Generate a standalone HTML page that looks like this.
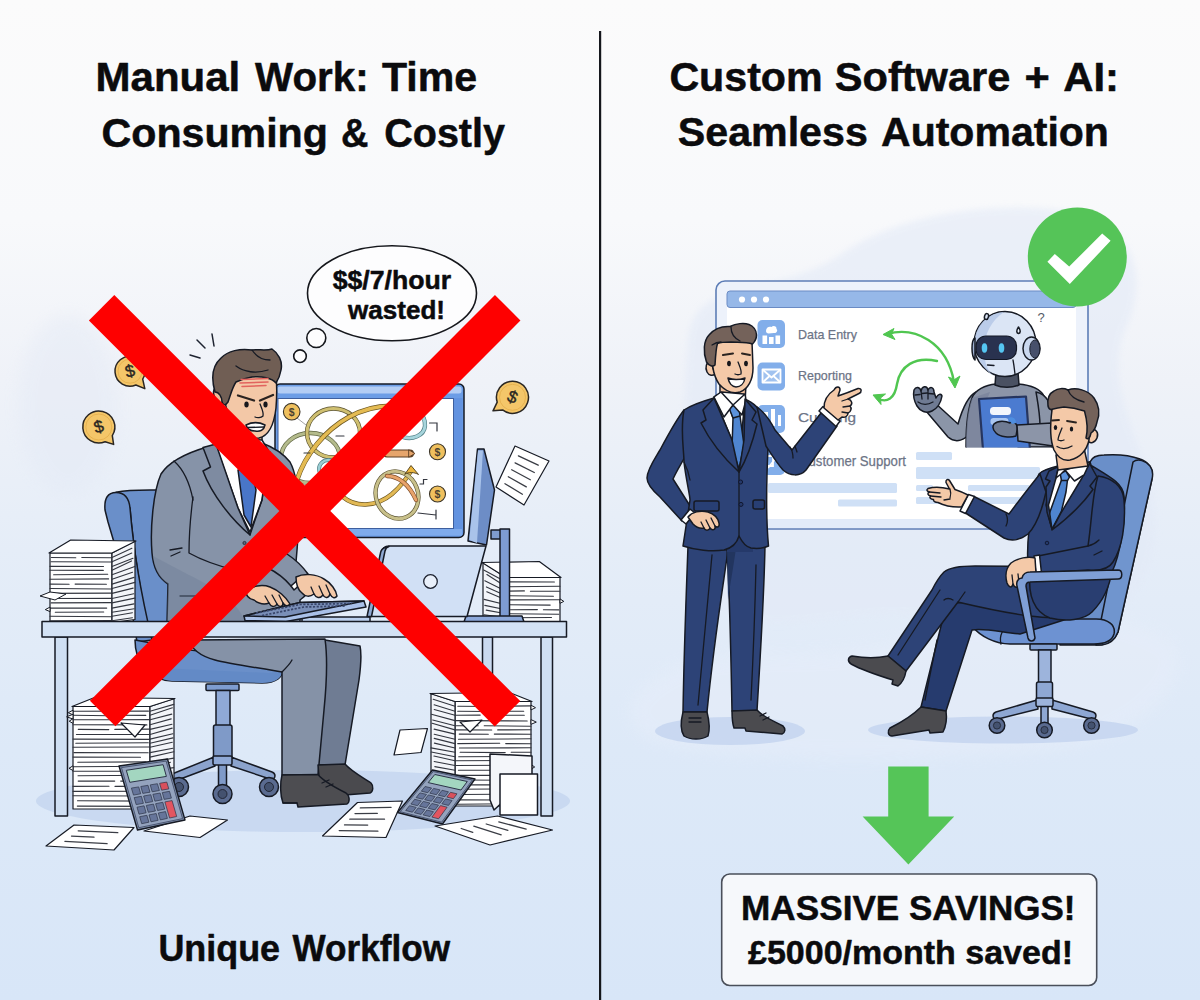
<!DOCTYPE html>
<html lang="en">
<head>
<meta charset="utf-8">
<title>Manual Work vs Custom Software + AI</title>
<style>
html,body{margin:0;padding:0;background:#eef2f9;}
body{width:1200px;height:1000px;overflow:hidden;font-family:"Liberation Sans",sans-serif;}
svg{display:block;}
text{font-family:"Liberation Sans",sans-serif;}
.t{font-weight:700;fill:#0b0b0d;stroke:#0b0b0d;stroke-width:.5px;stroke-linejoin:round;}
.o{stroke:#161a24;stroke-width:1.5;stroke-linejoin:round;stroke-linecap:round;}
.ol{fill:none;stroke:#161a24;stroke-width:1.3;stroke-linecap:round;stroke-linejoin:round;}
.pl{fill:none;stroke:#3a3d45;stroke-width:1.1;stroke-linecap:round;}
</style>
</head>
<body>
<svg width="1200" height="1000" viewBox="0 0 1200 1000">
<defs>
<linearGradient id="bg" x1="0" y1="0" x2="0" y2="1">
<stop offset="0" stop-color="#fbfbfb"/>
<stop offset="0.22" stop-color="#f8f9fb"/>
<stop offset="0.38" stop-color="#eff2f8"/>
<stop offset="0.55" stop-color="#e5edf8"/>
<stop offset="0.75" stop-color="#dde9f8"/>
<stop offset="1" stop-color="#d8e6f8"/>
</linearGradient>
<filter id="blur8" x="-20%" y="-20%" width="140%" height="140%"><feGaussianBlur stdDeviation="8"/></filter>
<filter id="blur3" x="-20%" y="-20%" width="140%" height="140%"><feGaussianBlur stdDeviation="3"/></filter>
</defs>
<rect width="1200" height="1000" fill="url(#bg)"/>

<!-- ================= BACKGROUND BLOBS ================= -->
<g id="blobs">
<path d="M688,340 C694,275 770,300 840,255 C900,212 1000,200 1075,212 C1135,225 1150,280 1125,330 C1105,380 1135,430 1150,480 C1165,540 1150,600 1100,625 C1040,650 960,610 880,615 C800,620 740,640 705,590 C670,540 684,420 688,340 Z" fill="#e3eaf7" opacity=".6" filter="url(#blur3)"/>
<path d="M640,690 C700,630 800,670 900,640 C1000,612 1100,600 1170,640 C1200,670 1150,740 1050,750 C900,765 700,760 650,740 C625,725 625,705 640,690 Z" fill="#e8eefa" opacity=".45" filter="url(#blur8)"/>
<ellipse cx="68" cy="405" rx="50" ry="90" fill="#e3e9f5" opacity=".45" filter="url(#blur8)"/>
</g>

<!-- ================= LEFT SCENE ================= -->
<g id="left-scene">
<ellipse cx="303" cy="801" rx="267" ry="31" fill="#c7d7ef" opacity=".9"/>
<path class="o" d="M116,492.3 C125,490.3 140,489.6 160,490 L176,640 L150,640 C140,590 133,545 130,508 Z" fill="#6a8fc9"/>
<path class="o" d="M105,510 C104,498 108,492.5 116,492.5 C124,492.5 129,498 130,508 C133,545 140,590 152,640 L137,642 C131,600 118,555 108,522 Z" fill="#6a8fc9"/>
<rect class="o" x="482.5" y="637" width="10" height="120" fill="#c9d9ef"/>
<rect class="o" x="275" y="384" width="189" height="153.5" rx="5" fill="#6c9de6" stroke-width="1.5"/>
<rect x="277.5" y="386.5" width="184" height="7" rx="2.5" fill="#b3cdf4"/>
<rect x="278" y="398.5" width="175.5" height="130" fill="#ffffff" stroke="#3e5f9e" stroke-width="1"/>
<rect x="454" y="398" width="8.5" height="137" fill="#6393e0"/>
<rect x="277" y="529" width="185" height="6.5" fill="#7fabec"/>
<g fill="none" stroke-linecap="round">
<path d="M281,458 a29.5,25 0 1 0 59,0 a29.5,25 0 1 0 -59,0" stroke="#5c6340" stroke-width="4.3"/><path d="M281,458 a29.5,25 0 1 0 59,0 a29.5,25 0 1 0 -59,0" stroke="#b4bb8c" stroke-width="3.0"/>
<path d="M307,433 a26.5,24.5 0 1 0 53,0 a26.5,24.5 0 1 0 -53,0" stroke="#5a5230" stroke-width="4.3"/><path d="M307,433 a26.5,24.5 0 1 0 53,0 a26.5,24.5 0 1 0 -53,0" stroke="#cfbf70" stroke-width="3.0"/>
<path d="M319,469 a9.5,9 0 1 0 19,0 a9.5,9 0 1 0 -19,0" stroke="#4f7d84" stroke-width="3.9000000000000004"/><path d="M319,469 a9.5,9 0 1 0 19,0 a9.5,9 0 1 0 -19,0" stroke="#9acdd3" stroke-width="2.6"/>
<path d="M297,480 C305,455 325,430 349,417 C362,410 376,406 390,406" stroke="#6b5520" stroke-width="4.9"/><path d="M297,480 C305,455 325,430 349,417 C362,410 376,406 390,406" stroke="#e4bb52" stroke-width="3.6"/>
<path d="M394,407 C412,404 426,414 425,426 C424,436 412,440 403,437" stroke="#4f7d84" stroke-width="4.3"/><path d="M394,407 C412,404 426,414 425,426 C424,436 412,440 403,437" stroke="#a7d5dc" stroke-width="3.0"/>
<path d="M343,497 C355,507 375,508 392,494 C401,486 407,478 411,471" stroke="#6b5520" stroke-width="4.5"/><path d="M343,497 C355,507 375,508 392,494 C401,486 407,478 411,471" stroke="#e2b955" stroke-width="3.2"/>
<path d="M376,495 a21,24 0 1 0 42,0 a21,24 0 1 0 -42,0" stroke="#5a5230" stroke-width="4.3" transform="rotate(-22 397 495)"/><path d="M376,495 a21,24 0 1 0 42,0 a21,24 0 1 0 -42,0" stroke="#c8c08a" stroke-width="3.0" transform="rotate(-22 397 495)"/>
<path d="M387,476 C398,476 409,484 416,500" stroke="#7a4a28" stroke-width="4.3"/><path d="M387,476 C398,476 409,484 416,500" stroke="#e8a36b" stroke-width="3.0"/>
<path d="M387,453.5 L410,453.5" stroke="#5a3d22" stroke-width="8"/><path d="M387.5,453.5 L409,453.5" stroke="#e6a56c" stroke-width="6"/>
<path d="M409,450 L415,453.5 L409,457 Z" fill="#e6a56c" stroke="#5a3d22" stroke-width=".9"/>
<path d="M405,474 L411,465.5 L418.5,474.5 C414,472 409,472 405,474 Z" fill="#edb73f" stroke="#4a3a18" stroke-width=".9"/>
<path d="M429.5,423 h7.5 v8 M420,484 h3.5 v-4.5 h3.5 M418,513 L436,515 M436,510 v9 M336,436 h8 M304,453 h6" stroke="#33363f" stroke-width="1.2"/>
<path d="M297,418 L306,425" stroke="#8c8c8c" stroke-width=".8"/>
</g>
<circle cx="291.7" cy="411.7" r="8.3" fill="#efc05e" stroke="#3a3428" stroke-width="1.1"/><text x="291.7" y="415.5" font-size="10.5" font-weight="700" text-anchor="middle" fill="#4a4030">$</text>
<circle cx="437.5" cy="451.7" r="8" fill="#efc05e" stroke="#3a3428" stroke-width="1.1"/><text x="437.5" y="455.5" font-size="10.5" font-weight="700" text-anchor="middle" fill="#4a4030">$</text>
<circle cx="437.5" cy="494" r="8" fill="#efc05e" stroke="#3a3428" stroke-width="1.1"/><text x="437.5" y="497.8" font-size="10.5" font-weight="700" text-anchor="middle" fill="#4a4030">$</text>
<path class="o" d="M477.5,449 L484,449 L494.5,490 L486.5,545 L468,541 Z" fill="#6d8dc6"/>
<path d="M478,450.5 L483,450.5 L477,543 L469.3,540 Z" fill="#a9c3ea"/>
<polygon points="506.0,577.5 560.0,577.5 560.0,622.0 506.0,622.0" fill="#ffffff" stroke="#161a24" stroke-width="1.2" stroke-linejoin="round" />
<polygon points="506.0,577.5 483.0,562.5 483.0,620.0 506.0,622.0" fill="#f3f5f9" stroke="#161a24" stroke-width="1.2" stroke-linejoin="round" />
<polygon points="561.0,577.5 539.3,561.5 482.0,562.5 506.0,577.5" fill="#ffffff" stroke="#161a24" stroke-width="1.2" stroke-linejoin="round" />
<line x1="506.0" y1="581.9" x2="554.4" y2="582.0" stroke="#33363f" stroke-width="1.1" stroke-linecap="round"/>
<line x1="506.0" y1="581.9" x2="483.7" y2="569.9" stroke="#33363f" stroke-width="1.1" stroke-linecap="round"/>
<line x1="506.6" y1="586.7" x2="560.0" y2="586.2" stroke="#33363f" stroke-width="1.1" stroke-linecap="round"/>
<line x1="506.0" y1="586.7" x2="486.9" y2="574.5" stroke="#33363f" stroke-width="1.1" stroke-linecap="round"/>
<line x1="506.0" y1="591.2" x2="524.4" y2="590.9" stroke="#33363f" stroke-width="1.1" stroke-linecap="round"/>
<line x1="530.4" y1="591.2" x2="559.8" y2="591.2" stroke="#33363f" stroke-width="1.1" stroke-linecap="round"/>
<line x1="506.0" y1="591.2" x2="484.8" y2="580.7" stroke="#33363f" stroke-width="1.1" stroke-linecap="round"/>
<line x1="509.0" y1="595.8" x2="553.4" y2="596.3" stroke="#33363f" stroke-width="1.1" stroke-linecap="round"/>
<line x1="506.0" y1="595.8" x2="486.4" y2="586.9" stroke="#33363f" stroke-width="1.1" stroke-linecap="round"/>
<line x1="506.0" y1="599.9" x2="559.3" y2="599.8" stroke="#33363f" stroke-width="1.1" stroke-linecap="round"/>
<line x1="506.0" y1="599.9" x2="486.8" y2="591.7" stroke="#33363f" stroke-width="1.1" stroke-linecap="round"/>
<polygon points="560.0,598.9 563.8,601.4 560.0,603.3" fill="#ffffff" stroke="#161a24" stroke-width="1" stroke-linejoin="round" />
<line x1="508.8" y1="604.8" x2="550.2" y2="605.1" stroke="#33363f" stroke-width="1.1" stroke-linecap="round"/>
<line x1="506.0" y1="604.8" x2="484.1" y2="599.4" stroke="#33363f" stroke-width="1.1" stroke-linecap="round"/>
<line x1="510.5" y1="609.8" x2="537.4" y2="609.6" stroke="#33363f" stroke-width="1.1" stroke-linecap="round"/>
<line x1="543.4" y1="609.8" x2="558.8" y2="609.9" stroke="#33363f" stroke-width="1.1" stroke-linecap="round"/>
<line x1="506.0" y1="609.8" x2="484.8" y2="605.4" stroke="#33363f" stroke-width="1.1" stroke-linecap="round"/>
<line x1="509.9" y1="613.7" x2="558.8" y2="614.2" stroke="#33363f" stroke-width="1.1" stroke-linecap="round"/>
<line x1="506.0" y1="613.7" x2="486.2" y2="610.1" stroke="#33363f" stroke-width="1.1" stroke-linecap="round"/>
<line x1="506.0" y1="617.8" x2="551.5" y2="617.5" stroke="#33363f" stroke-width="1.1" stroke-linecap="round"/>
<line x1="506.0" y1="617.8" x2="484.0" y2="614.7" stroke="#33363f" stroke-width="1.1" stroke-linecap="round"/>
<rect class="o" x="491" y="530" width="10" height="9" fill="#7f9cd0"/>
<rect class="o" x="500" y="529" width="9.5" height="88" fill="#7d9bd2"/>
<path class="o" d="M466,616 L522,616 L524,622 L464,622 Z" fill="#8ca8da"/>
<path class="o" d="M233,425 L233,450 L262,452 L262,428 Z" fill="#eebd9b"/>
<path class="o" d="M207,447 C190,452 170,460 161,474 C153,492 150,530 152,553 C153,566 157,577 168,584 L167,623 L300,623 L300,600 C315,590 310,575 296,562 C300,520 300,480 290,462 C282,452 270,446 262,443 L240,470 Z" fill="#8693a8"/>
<path class="o" d="M216,446 L233,438 L262,440 L268,450 L262,500 L250,532 L238,508 Z" fill="#ffffff"/>
<path class="o" d="M238,470 L252,470 L256,490 L251,527 L244,515 Z" fill="#4976c8"/>
<path class="o" d="M203,447.5 L216,444 L238,508 L250,535 C232,520 212,495 203,471 L210.5,467 Z" fill="#7e8ba1"/>
<path class="ol" d="M250,535 L262,500 L270,452"/>
<circle cx="244.5" cy="543" r="1.6" fill="#5d687c" stroke="#1e2330" stroke-width=".8"/>
<path class="ol" d="M193,497 C190,520 189,540 189,553 C205,562 222,567 238,571"/>
<path class="ol" d="M170,550 L182,548 M171,556 L180,552 M174,461 C184,470 190,484 193,500"/>
<path class="ol" d="M180,596 L196,596"/>
<path d="M153,556 C154,567 158,577 168,584 L167,622 L245,622 C240,605 220,590 189,575 Z" fill="#72809a" opacity=".45"/>
<path class="o" d="M219,388 C214,385 212,392 215,398 C217,403 221,404 223,402 Z" fill="#eebd9b"/>
<path class="o" d="M224,372 C222,395 226,415 236,427 C244,436 252,439 259,438 C268,436 274,425 276,408 C277,395 277,385 276,376 C262,370 240,368 224,372 Z" fill="#f3c8a7"/>
<path class="o" d="M215,392 C211,378 212,366 221,358 C228,351 240,348 252,350 C258,349 266,351 272,349 C278,353 283,361 281,370 C280,376 278,380 276,383 C272,378 262,376 252,377 C246,378 240,380 236,382 C232,388 231,394 228,402 C226,405 223,406 222,402 C222,397 219,392 215,392 Z" fill="#705e54"/>
<path class="ol" d="M236,366 C244,372 256,374 268,370 M252,350 C256,356 262,360 270,360" stroke="#3a2f28" stroke-width=".9"/>
<path d="M241,379.5 L268,378.5 M240,383 L268,382 M242,386.5 L266,385.5" stroke="#e2635e" stroke-width="1.5" fill="none" stroke-linecap="round"/>
<path d="M238,395.5 L254,400.5 M260,400.5 L273,395" stroke="#2a2320" stroke-width="2.3" stroke-linecap="round" fill="none"/>
<ellipse cx="246.5" cy="404.5" rx="2.2" ry="3" fill="#17171c"/><ellipse cx="265.5" cy="404.5" rx="2.1" ry="3" fill="#17171c"/>
<path class="ol" d="M260,404 C262,409 264,413 263,416 C261,418 257,418 255,417"/>
<path class="o" d="M246,425 C252,422 259,422 265,425 C264,430 260,432 255,431 C251,431 247,429 246,425 Z" fill="#ffffff"/>
<path class="ol" d="M247,427.5 L264,427" stroke-width=".7"/>
<path d="M190,355 L200,358 M197,340 L205,348 M212,334 L214,346" stroke="#1e2330" stroke-width="1.5" stroke-linecap="round" fill="none"/>
<path class="o" d="M302,617 L370,617 L370,622.5 L302,622.5 Z" fill="#bcd0ee"/>
<path class="o" d="M389,546 L486,546 L467,616.5 L369,616.5 L381,553 C382,549 385,546 389,546 Z" fill="#d1e0f5"/>
<path class="o" d="M386,547 C383,548 381,550 380.5,553 L367,616.5 L371.5,616.5 L385,551 C385.5,548.5 387,547 389,546.5 Z" fill="#8ea8d2"/>
<circle cx="430.5" cy="581.5" r="6.8" fill="#e9f0fa" stroke="#1e2330" stroke-width="1.3"/>
<polygon points="50.0,553.0 112.0,553.0 112.0,622.5 50.0,622.5" fill="#ffffff" stroke="#161a24" stroke-width="1.2" stroke-linejoin="round" />
<polygon points="112.0,553.0 135.0,541.0 135.0,619.5 112.0,622.5" fill="#f3f5f9" stroke="#161a24" stroke-width="1.2" stroke-linejoin="round" />
<polygon points="49.0,553.0 70.7,540.0 136.0,541.0 112.0,553.0" fill="#ffffff" stroke="#161a24" stroke-width="1.2" stroke-linejoin="round" />
<line x1="51.4" y1="557.5" x2="75.8" y2="557.8" stroke="#33363f" stroke-width="1.1" stroke-linecap="round"/>
<line x1="81.8" y1="557.5" x2="111.0" y2="557.7" stroke="#33363f" stroke-width="1.1" stroke-linecap="round"/>
<line x1="112.0" y1="557.5" x2="131.9" y2="548.3" stroke="#33363f" stroke-width="1.1" stroke-linecap="round"/>
<line x1="51.0" y1="561.7" x2="112.0" y2="562.0" stroke="#33363f" stroke-width="1.1" stroke-linecap="round"/>
<line x1="112.0" y1="561.7" x2="131.8" y2="553.0" stroke="#33363f" stroke-width="1.1" stroke-linecap="round"/>
<line x1="50.0" y1="566.4" x2="103.5" y2="566.5" stroke="#33363f" stroke-width="1.1" stroke-linecap="round"/>
<line x1="112.0" y1="566.4" x2="133.0" y2="558.2" stroke="#33363f" stroke-width="1.1" stroke-linecap="round"/>
<line x1="50.0" y1="570.3" x2="103.3" y2="570.4" stroke="#33363f" stroke-width="1.1" stroke-linecap="round"/>
<line x1="112.0" y1="570.3" x2="131.5" y2="560.9" stroke="#33363f" stroke-width="1.1" stroke-linecap="round"/>
<line x1="53.6" y1="574.7" x2="107.7" y2="574.2" stroke="#33363f" stroke-width="1.1" stroke-linecap="round"/>
<line x1="112.0" y1="574.7" x2="134.8" y2="566.4" stroke="#33363f" stroke-width="1.1" stroke-linecap="round"/>
<line x1="50.0" y1="579.2" x2="108.6" y2="578.9" stroke="#33363f" stroke-width="1.1" stroke-linecap="round"/>
<line x1="112.0" y1="579.2" x2="132.5" y2="572.2" stroke="#33363f" stroke-width="1.1" stroke-linecap="round"/>
<line x1="50.0" y1="584.1" x2="69.1" y2="584.3" stroke="#33363f" stroke-width="1.1" stroke-linecap="round"/>
<line x1="75.1" y1="584.1" x2="106.4" y2="584.2" stroke="#33363f" stroke-width="1.1" stroke-linecap="round"/>
<line x1="112.0" y1="584.1" x2="134.1" y2="577.4" stroke="#33363f" stroke-width="1.1" stroke-linecap="round"/>
<line x1="50.0" y1="588.5" x2="112.0" y2="589.0" stroke="#33363f" stroke-width="1.1" stroke-linecap="round"/>
<line x1="112.0" y1="588.5" x2="134.9" y2="582.4" stroke="#33363f" stroke-width="1.1" stroke-linecap="round"/>
<line x1="50.0" y1="593.4" x2="112.0" y2="593.1" stroke="#33363f" stroke-width="1.1" stroke-linecap="round"/>
<line x1="112.0" y1="593.4" x2="133.2" y2="588.1" stroke="#33363f" stroke-width="1.1" stroke-linecap="round"/>
<line x1="52.0" y1="598.5" x2="111.9" y2="598.4" stroke="#33363f" stroke-width="1.1" stroke-linecap="round"/>
<line x1="112.0" y1="598.5" x2="133.8" y2="593.8" stroke="#33363f" stroke-width="1.1" stroke-linecap="round"/>
<line x1="51.2" y1="602.9" x2="111.4" y2="602.6" stroke="#33363f" stroke-width="1.1" stroke-linecap="round"/>
<line x1="112.0" y1="602.9" x2="134.8" y2="598.1" stroke="#33363f" stroke-width="1.1" stroke-linecap="round"/>
<line x1="50.0" y1="608.1" x2="106.7" y2="608.1" stroke="#33363f" stroke-width="1.1" stroke-linecap="round"/>
<line x1="112.0" y1="608.1" x2="134.0" y2="603.9" stroke="#33363f" stroke-width="1.1" stroke-linecap="round"/>
<polygon points="50.0,607.1 45.3,609.6 50.0,611.6" fill="#ffffff" stroke="#161a24" stroke-width="1" stroke-linejoin="round" />
<line x1="55.3" y1="612.2" x2="103.7" y2="612.0" stroke="#33363f" stroke-width="1.1" stroke-linecap="round"/>
<line x1="112.0" y1="612.2" x2="134.2" y2="608.8" stroke="#33363f" stroke-width="1.1" stroke-linecap="round"/>
<line x1="50.0" y1="616.3" x2="112.0" y2="616.7" stroke="#33363f" stroke-width="1.1" stroke-linecap="round"/>
<line x1="112.0" y1="616.3" x2="132.4" y2="612.7" stroke="#33363f" stroke-width="1.1" stroke-linecap="round"/>
<line x1="50.0" y1="620.8" x2="112.0" y2="620.6" stroke="#33363f" stroke-width="1.1" stroke-linecap="round"/>
<line x1="112.0" y1="620.8" x2="132.4" y2="617.7" stroke="#33363f" stroke-width="1.1" stroke-linecap="round"/>
<polygon points="40.0,596.0 50.0,592.0 66.0,594.0 55.0,600.0" fill="#ffffff" stroke="#161a24" stroke-width="1" stroke-linejoin="round" />
<path class="o" d="M244,616 L300,602.5 L364,601 L366,607 L286,621.5 L245,620.5 Z" fill="#a9c0e8"/>
<path class="o" d="M244,616 L300,602.5 L364,601 L285,617 Z" fill="#7a8fb8"/>
<path d="M256,613 L300,604.5 L352,603.5 M262,615.5 L304,607 L345,606" stroke="#38456a" stroke-width="1.7" stroke-dasharray="2.2 1.5" fill="none"/>
<path class="o" d="M272,548 L287,554 C296,560 303,567 308,574 L300,579 L291,586 C286,580 280,574 268,568 Z" fill="#8693a8"/>
<path class="o" d="M291,586 L300,578 L303,582 L294,590 Z" fill="#ffffff"/>
<path class="o" d="M296,577 C304,573 316,574 324,579 C331,583 336,590 337,596 C335,599 332,598 330,594 C329,598 325,599 323,595 C320,599 316,598 314,594 C310,597 305,597 302,593 C298,590 296,584 296,577 Z" fill="#f3c8a7"/>
<path class="ol" d="M323,595 L319,586 M314,594 L311,587 M330,594 L326,585" stroke-width=".9"/>
<path class="o" d="M246,591 C252,586 262,584 270,587 C278,590 286,597 290,604 C288,607 285,606 283,603 C283,607 279,608 277,604 C275,608 271,607 269,603 C264,605 258,603 254,600 C249,599 246,596 246,591 Z" fill="#f3c8a7"/>
<path class="ol" d="M277,604 L272,595 M283,603 L279,595 M269,603 L265,596" stroke-width=".9"/>
<path class="o" d="M135,640 C135,662 148,680 172,681 L262,683 C276,683 284,677 282,668 L282,660 L190,650 Z" fill="#6a8fc9"/>
<path d="M160,668 L268,673 C276,673 281,670 281.5,667 L282,668 C284,677 276,683 262,683 L172,681 C162,680 155,676 150,670 Z" fill="#638ac6"/>
<rect class="o" x="206" y="684" width="33" height="6.5" rx="1" fill="#7e9ccf"/>
<rect class="o" x="216" y="690.5" width="14" height="36" fill="#8fa9d6"/>
<rect class="o" x="213.5" y="725" width="18.5" height="37" rx="2" fill="#7f9ac8"/>
<path class="o" d="M214,757 L172,774 C168,776 170,783 175,781 L215,766 Z" fill="#8ba3cd"/>
<path class="o" d="M231,757 L272,772 C277,774 275,781 270,779 L231,766 Z" fill="#8ba3cd"/>
<rect class="o" x="218.5" y="760" width="8" height="26" fill="#7f9ac8"/>
<rect class="o" x="213" y="756" width="19" height="9" rx="1.5" fill="#8fa9d6"/>
<circle class="o" cx="179" cy="787" r="9.5" fill="#5a6b90"/><circle cx="179" cy="787" r="4.5" fill="#44526f" stroke="#1e2330" stroke-width=".9"/>
<circle class="o" cx="222.5" cy="794" r="9.5" fill="#5a6b90"/><circle cx="222.5" cy="794" r="4.5" fill="#44526f" stroke="#1e2330" stroke-width=".9"/>
<circle class="o" cx="269" cy="787" r="9.5" fill="#5a6b90"/><circle cx="269" cy="787" r="4.5" fill="#44526f" stroke="#1e2330" stroke-width=".9"/>
<path class="o" d="M325,640 L360,646 C362,655 361,665 359,680 L345,765 L318,765 L322,700 Z" fill="#6f7c93"/>
<path class="o" d="M190,640 L325,639 C328,660 326,690 324,710 L318,775 L282,775 L282,672 C260,668 230,664 215,660 C200,656 190,648 190,640 Z" fill="#8592a7"/>
<path class="ol" d="M282,672 C286,668 290,664 292,660"/>
<path class="o" d="M318,765 L345,764 C352,772 364,778 371,783 C374,786 373,792 370,793 L332,796 L320,790 Z" fill="#4a4a4e"/>
<path class="o" d="M282,775 L318,774.5 C324,782 338,789 346,793 C350,796 350,802 347,804 L298,807 L297,803 L283,803 C280,795 280,783 282,775 Z" fill="#4d4d51"/>
<path class="ol" d="M322,783 L329,780 M326,787 L333,784 M283,803 L297,803" stroke="#222" stroke-width=".9"/>
<rect class="o" x="55" y="637" width="12.5" height="179" fill="#cfdff3"/>
<rect class="o" x="541" y="637" width="11.5" height="179" fill="#cfdff3"/>
<rect class="o" x="42" y="621.5" width="524.5" height="15.5" fill="#d3e2f5" stroke-width="1.4"/>
<polygon points="73.0,706.5 150.0,706.5 150.0,809.0 73.0,809.0" fill="#ffffff" stroke="#161a24" stroke-width="1.2" stroke-linejoin="round" />
<polygon points="150.0,706.5 174.0,698.5 174.0,806.0 150.0,809.0" fill="#f3f5f9" stroke="#161a24" stroke-width="1.2" stroke-linejoin="round" />
<polygon points="72.0,706.5 94.6,697.5 175.0,698.5 150.0,706.5" fill="#ffffff" stroke="#161a24" stroke-width="1.2" stroke-linejoin="round" />
<line x1="73.0" y1="711.2" x2="148.5" y2="711.1" stroke="#33363f" stroke-width="1.1" stroke-linecap="round"/>
<line x1="150.0" y1="711.2" x2="173.8" y2="704.4" stroke="#33363f" stroke-width="1.1" stroke-linecap="round"/>
<polygon points="73.0,710.2 68.3,712.7 73.0,714.9" fill="#ffffff" stroke="#161a24" stroke-width="1" stroke-linejoin="round" />
<line x1="73.0" y1="715.3" x2="110.1" y2="715.7" stroke="#33363f" stroke-width="1.1" stroke-linecap="round"/>
<line x1="116.1" y1="715.3" x2="145.8" y2="715.4" stroke="#33363f" stroke-width="1.1" stroke-linecap="round"/>
<line x1="150.0" y1="715.3" x2="172.4" y2="707.8" stroke="#33363f" stroke-width="1.1" stroke-linecap="round"/>
<polygon points="73.0,714.3 66.6,716.8 73.0,719.0" fill="#ffffff" stroke="#161a24" stroke-width="1" stroke-linejoin="round" />
<line x1="73.9" y1="719.7" x2="111.4" y2="719.8" stroke="#33363f" stroke-width="1.1" stroke-linecap="round"/>
<line x1="117.4" y1="719.7" x2="150.0" y2="719.6" stroke="#33363f" stroke-width="1.1" stroke-linecap="round"/>
<line x1="150.0" y1="719.7" x2="171.8" y2="714.1" stroke="#33363f" stroke-width="1.1" stroke-linecap="round"/>
<polygon points="73.0,718.7 69.2,721.2 73.0,723.4" fill="#ffffff" stroke="#161a24" stroke-width="1" stroke-linejoin="round" />
<line x1="73.0" y1="724.7" x2="146.9" y2="724.9" stroke="#33363f" stroke-width="1.1" stroke-linecap="round"/>
<line x1="150.0" y1="724.7" x2="171.2" y2="718.9" stroke="#33363f" stroke-width="1.1" stroke-linecap="round"/>
<line x1="78.3" y1="729.4" x2="108.8" y2="729.6" stroke="#33363f" stroke-width="1.1" stroke-linecap="round"/>
<line x1="114.8" y1="729.4" x2="150.0" y2="729.1" stroke="#33363f" stroke-width="1.1" stroke-linecap="round"/>
<line x1="150.0" y1="729.4" x2="172.0" y2="724.2" stroke="#33363f" stroke-width="1.1" stroke-linecap="round"/>
<line x1="76.4" y1="734.5" x2="150.0" y2="734.5" stroke="#33363f" stroke-width="1.1" stroke-linecap="round"/>
<line x1="150.0" y1="734.5" x2="172.2" y2="728.1" stroke="#33363f" stroke-width="1.1" stroke-linecap="round"/>
<line x1="73.0" y1="739.1" x2="150.0" y2="739.4" stroke="#33363f" stroke-width="1.1" stroke-linecap="round"/>
<line x1="150.0" y1="739.1" x2="172.9" y2="733.7" stroke="#33363f" stroke-width="1.1" stroke-linecap="round"/>
<line x1="75.8" y1="743.2" x2="148.3" y2="742.8" stroke="#33363f" stroke-width="1.1" stroke-linecap="round"/>
<line x1="150.0" y1="743.2" x2="173.0" y2="737.9" stroke="#33363f" stroke-width="1.1" stroke-linecap="round"/>
<line x1="73.0" y1="747.3" x2="150.0" y2="747.0" stroke="#33363f" stroke-width="1.1" stroke-linecap="round"/>
<line x1="150.0" y1="747.3" x2="172.3" y2="742.2" stroke="#33363f" stroke-width="1.1" stroke-linecap="round"/>
<line x1="73.9" y1="752.6" x2="148.2" y2="752.7" stroke="#33363f" stroke-width="1.1" stroke-linecap="round"/>
<line x1="150.0" y1="752.6" x2="172.9" y2="748.3" stroke="#33363f" stroke-width="1.1" stroke-linecap="round"/>
<line x1="73.0" y1="757.1" x2="140.5" y2="757.3" stroke="#33363f" stroke-width="1.1" stroke-linecap="round"/>
<line x1="150.0" y1="757.1" x2="173.8" y2="751.7" stroke="#33363f" stroke-width="1.1" stroke-linecap="round"/>
<line x1="77.8" y1="762.3" x2="146.1" y2="761.9" stroke="#33363f" stroke-width="1.1" stroke-linecap="round"/>
<line x1="150.0" y1="762.3" x2="173.7" y2="758.1" stroke="#33363f" stroke-width="1.1" stroke-linecap="round"/>
<line x1="73.3" y1="766.8" x2="150.0" y2="766.3" stroke="#33363f" stroke-width="1.1" stroke-linecap="round"/>
<line x1="150.0" y1="766.8" x2="170.5" y2="762.3" stroke="#33363f" stroke-width="1.1" stroke-linecap="round"/>
<polygon points="73.0,765.8 69.0,768.3 73.0,770.5" fill="#ffffff" stroke="#161a24" stroke-width="1" stroke-linejoin="round" />
<line x1="73.0" y1="771.3" x2="150.0" y2="771.3" stroke="#33363f" stroke-width="1.1" stroke-linecap="round"/>
<line x1="150.0" y1="771.3" x2="173.7" y2="767.6" stroke="#33363f" stroke-width="1.1" stroke-linecap="round"/>
<line x1="78.0" y1="775.7" x2="150.0" y2="775.3" stroke="#33363f" stroke-width="1.1" stroke-linecap="round"/>
<line x1="150.0" y1="775.7" x2="171.8" y2="772.2" stroke="#33363f" stroke-width="1.1" stroke-linecap="round"/>
<line x1="78.2" y1="781.1" x2="114.7" y2="781.1" stroke="#33363f" stroke-width="1.1" stroke-linecap="round"/>
<line x1="120.7" y1="781.1" x2="143.0" y2="781.3" stroke="#33363f" stroke-width="1.1" stroke-linecap="round"/>
<line x1="150.0" y1="781.1" x2="172.7" y2="777.5" stroke="#33363f" stroke-width="1.1" stroke-linecap="round"/>
<line x1="73.0" y1="786.4" x2="109.0" y2="786.3" stroke="#33363f" stroke-width="1.1" stroke-linecap="round"/>
<line x1="115.0" y1="786.4" x2="150.0" y2="786.1" stroke="#33363f" stroke-width="1.1" stroke-linecap="round"/>
<line x1="150.0" y1="786.4" x2="173.9" y2="783.1" stroke="#33363f" stroke-width="1.1" stroke-linecap="round"/>
<line x1="73.0" y1="791.4" x2="150.0" y2="791.3" stroke="#33363f" stroke-width="1.1" stroke-linecap="round"/>
<line x1="150.0" y1="791.4" x2="173.1" y2="788.3" stroke="#33363f" stroke-width="1.1" stroke-linecap="round"/>
<line x1="73.0" y1="795.7" x2="141.0" y2="796.0" stroke="#33363f" stroke-width="1.1" stroke-linecap="round"/>
<line x1="150.0" y1="795.7" x2="173.7" y2="792.3" stroke="#33363f" stroke-width="1.1" stroke-linecap="round"/>
<line x1="77.5" y1="800.8" x2="150.0" y2="801.1" stroke="#33363f" stroke-width="1.1" stroke-linecap="round"/>
<line x1="150.0" y1="800.8" x2="170.1" y2="797.9" stroke="#33363f" stroke-width="1.1" stroke-linecap="round"/>
<line x1="77.3" y1="806.1" x2="148.3" y2="806.4" stroke="#33363f" stroke-width="1.1" stroke-linecap="round"/>
<line x1="150.0" y1="806.1" x2="173.4" y2="803.1" stroke="#33363f" stroke-width="1.1" stroke-linecap="round"/>
<polygon points="455.0,701.5 531.0,701.5 531.0,806.0 455.0,806.0" fill="#ffffff" stroke="#161a24" stroke-width="1.2" stroke-linejoin="round" />
<polygon points="455.0,701.5 431.0,693.5 431.0,803.0 455.0,806.0" fill="#f3f5f9" stroke="#161a24" stroke-width="1.2" stroke-linejoin="round" />
<polygon points="532.0,701.5 509.4,692.5 430.0,693.5 455.0,701.5" fill="#ffffff" stroke="#161a24" stroke-width="1.2" stroke-linejoin="round" />
<line x1="457.8" y1="706.2" x2="491.5" y2="706.5" stroke="#33363f" stroke-width="1.1" stroke-linecap="round"/>
<line x1="497.5" y1="706.2" x2="531.0" y2="705.9" stroke="#33363f" stroke-width="1.1" stroke-linecap="round"/>
<line x1="455.0" y1="706.2" x2="433.2" y2="699.2" stroke="#33363f" stroke-width="1.1" stroke-linecap="round"/>
<polygon points="531.0,705.2 535.5,707.7 531.0,709.9" fill="#ffffff" stroke="#161a24" stroke-width="1" stroke-linejoin="round" />
<line x1="457.7" y1="711.2" x2="487.9" y2="711.5" stroke="#33363f" stroke-width="1.1" stroke-linecap="round"/>
<line x1="493.9" y1="711.2" x2="523.7" y2="711.3" stroke="#33363f" stroke-width="1.1" stroke-linecap="round"/>
<line x1="455.0" y1="711.2" x2="434.1" y2="704.8" stroke="#33363f" stroke-width="1.1" stroke-linecap="round"/>
<line x1="455.0" y1="715.3" x2="480.2" y2="715.1" stroke="#33363f" stroke-width="1.1" stroke-linecap="round"/>
<line x1="486.2" y1="715.3" x2="524.3" y2="715.2" stroke="#33363f" stroke-width="1.1" stroke-linecap="round"/>
<line x1="455.0" y1="715.3" x2="434.2" y2="709.5" stroke="#33363f" stroke-width="1.1" stroke-linecap="round"/>
<line x1="455.3" y1="720.6" x2="527.2" y2="721.0" stroke="#33363f" stroke-width="1.1" stroke-linecap="round"/>
<line x1="455.0" y1="720.6" x2="431.4" y2="714.2" stroke="#33363f" stroke-width="1.1" stroke-linecap="round"/>
<polygon points="531.0,719.6 536.3,722.1 531.0,724.3" fill="#ffffff" stroke="#161a24" stroke-width="1" stroke-linejoin="round" />
<line x1="456.2" y1="725.8" x2="478.2" y2="725.8" stroke="#33363f" stroke-width="1.1" stroke-linecap="round"/>
<line x1="484.2" y1="725.8" x2="530.9" y2="726.2" stroke="#33363f" stroke-width="1.1" stroke-linecap="round"/>
<line x1="455.0" y1="725.8" x2="432.7" y2="720.0" stroke="#33363f" stroke-width="1.1" stroke-linecap="round"/>
<line x1="455.0" y1="729.9" x2="491.7" y2="730.0" stroke="#33363f" stroke-width="1.1" stroke-linecap="round"/>
<line x1="497.7" y1="729.9" x2="531.0" y2="729.7" stroke="#33363f" stroke-width="1.1" stroke-linecap="round"/>
<line x1="455.0" y1="729.9" x2="432.1" y2="723.3" stroke="#33363f" stroke-width="1.1" stroke-linecap="round"/>
<line x1="459.2" y1="734.1" x2="488.3" y2="734.2" stroke="#33363f" stroke-width="1.1" stroke-linecap="round"/>
<line x1="494.3" y1="734.1" x2="531.0" y2="734.2" stroke="#33363f" stroke-width="1.1" stroke-linecap="round"/>
<line x1="455.0" y1="734.1" x2="434.1" y2="729.1" stroke="#33363f" stroke-width="1.1" stroke-linecap="round"/>
<line x1="458.5" y1="739.3" x2="531.0" y2="738.8" stroke="#33363f" stroke-width="1.1" stroke-linecap="round"/>
<line x1="455.0" y1="739.3" x2="434.2" y2="734.2" stroke="#33363f" stroke-width="1.1" stroke-linecap="round"/>
<line x1="457.7" y1="743.6" x2="499.7" y2="743.2" stroke="#33363f" stroke-width="1.1" stroke-linecap="round"/>
<line x1="505.7" y1="743.6" x2="531.0" y2="743.8" stroke="#33363f" stroke-width="1.1" stroke-linecap="round"/>
<line x1="455.0" y1="743.6" x2="434.2" y2="738.4" stroke="#33363f" stroke-width="1.1" stroke-linecap="round"/>
<line x1="459.4" y1="748.0" x2="531.0" y2="747.8" stroke="#33363f" stroke-width="1.1" stroke-linecap="round"/>
<line x1="455.0" y1="748.0" x2="434.4" y2="743.1" stroke="#33363f" stroke-width="1.1" stroke-linecap="round"/>
<line x1="460.1" y1="752.2" x2="505.2" y2="752.6" stroke="#33363f" stroke-width="1.1" stroke-linecap="round"/>
<line x1="511.2" y1="752.2" x2="531.0" y2="752.3" stroke="#33363f" stroke-width="1.1" stroke-linecap="round"/>
<line x1="455.0" y1="752.2" x2="431.0" y2="747.9" stroke="#33363f" stroke-width="1.1" stroke-linecap="round"/>
<line x1="458.7" y1="756.7" x2="521.3" y2="756.4" stroke="#33363f" stroke-width="1.1" stroke-linecap="round"/>
<line x1="455.0" y1="756.7" x2="431.3" y2="752.0" stroke="#33363f" stroke-width="1.1" stroke-linecap="round"/>
<line x1="455.0" y1="760.8" x2="524.0" y2="760.5" stroke="#33363f" stroke-width="1.1" stroke-linecap="round"/>
<line x1="455.0" y1="760.8" x2="433.9" y2="756.0" stroke="#33363f" stroke-width="1.1" stroke-linecap="round"/>
<line x1="455.0" y1="765.5" x2="530.5" y2="765.1" stroke="#33363f" stroke-width="1.1" stroke-linecap="round"/>
<line x1="455.0" y1="765.5" x2="434.1" y2="761.5" stroke="#33363f" stroke-width="1.1" stroke-linecap="round"/>
<polygon points="531.0,764.5 534.7,767.0 531.0,769.2" fill="#ffffff" stroke="#161a24" stroke-width="1" stroke-linejoin="round" />
<line x1="458.4" y1="770.2" x2="527.1" y2="770.2" stroke="#33363f" stroke-width="1.1" stroke-linecap="round"/>
<line x1="455.0" y1="770.2" x2="434.8" y2="766.6" stroke="#33363f" stroke-width="1.1" stroke-linecap="round"/>
<line x1="455.0" y1="775.4" x2="494.3" y2="775.4" stroke="#33363f" stroke-width="1.1" stroke-linecap="round"/>
<line x1="500.3" y1="775.4" x2="531.0" y2="775.3" stroke="#33363f" stroke-width="1.1" stroke-linecap="round"/>
<line x1="455.0" y1="775.4" x2="433.9" y2="771.3" stroke="#33363f" stroke-width="1.1" stroke-linecap="round"/>
<polygon points="531.0,774.4 536.8,776.9 531.0,779.1" fill="#ffffff" stroke="#161a24" stroke-width="1" stroke-linejoin="round" />
<line x1="457.9" y1="780.0" x2="531.0" y2="780.4" stroke="#33363f" stroke-width="1.1" stroke-linecap="round"/>
<line x1="455.0" y1="780.0" x2="431.9" y2="776.0" stroke="#33363f" stroke-width="1.1" stroke-linecap="round"/>
<line x1="455.0" y1="784.9" x2="531.0" y2="784.8" stroke="#33363f" stroke-width="1.1" stroke-linecap="round"/>
<line x1="455.0" y1="784.9" x2="431.3" y2="781.7" stroke="#33363f" stroke-width="1.1" stroke-linecap="round"/>
<line x1="455.4" y1="789.2" x2="496.4" y2="789.0" stroke="#33363f" stroke-width="1.1" stroke-linecap="round"/>
<line x1="502.4" y1="789.2" x2="527.5" y2="789.4" stroke="#33363f" stroke-width="1.1" stroke-linecap="round"/>
<line x1="455.0" y1="789.2" x2="431.0" y2="785.4" stroke="#33363f" stroke-width="1.1" stroke-linecap="round"/>
<line x1="460.9" y1="794.5" x2="495.7" y2="794.3" stroke="#33363f" stroke-width="1.1" stroke-linecap="round"/>
<line x1="501.7" y1="794.5" x2="522.7" y2="794.3" stroke="#33363f" stroke-width="1.1" stroke-linecap="round"/>
<line x1="455.0" y1="794.5" x2="431.4" y2="791.8" stroke="#33363f" stroke-width="1.1" stroke-linecap="round"/>
<line x1="457.2" y1="799.9" x2="523.6" y2="800.1" stroke="#33363f" stroke-width="1.1" stroke-linecap="round"/>
<line x1="455.0" y1="799.9" x2="431.9" y2="797.2" stroke="#33363f" stroke-width="1.1" stroke-linecap="round"/>
<line x1="457.6" y1="804.2" x2="521.6" y2="803.7" stroke="#33363f" stroke-width="1.1" stroke-linecap="round"/>
<line x1="455.0" y1="804.2" x2="432.0" y2="801.2" stroke="#33363f" stroke-width="1.1" stroke-linecap="round"/>
<polygon points="121.0,723.0 145.0,725.0 135.0,737.0" fill="#ffffff" stroke="#161a24" stroke-width="1.2" stroke-linejoin="round" />
<polygon points="460.0,722.0 482.0,720.0 470.0,732.0" fill="#ffffff" stroke="#161a24" stroke-width="1.2" stroke-linejoin="round" />
<path class="o" d="M490,754 L532,756 L532,775 L494,810 L490,800 Z" fill="#f4f6fa"/>
<rect class="o" x="500" y="774" width="37.5" height="41" fill="#ffffff"/>
<polygon points="400.0,730.0 427.5,728.5 421.0,752.5 394.0,755.0" fill="#ffffff" stroke="#161a24" stroke-width="1.2" stroke-linejoin="round" />
<polygon points="74.0,825.0 134.0,827.5 114.0,850.0 46.0,846.0" fill="#ffffff" stroke="#161a24" stroke-width="1.2" stroke-linejoin="round" />
<line x1="78.2" y1="830.8" x2="117.8" y2="832.6" stroke="#3a3d45" stroke-width="1.3" stroke-linecap="round"/>
<line x1="71.5" y1="836.1" x2="94.0" y2="837.2" stroke="#3a3d45" stroke-width="1.3" stroke-linecap="round"/>
<line x1="64.9" y1="841.4" x2="107.1" y2="843.7" stroke="#3a3d45" stroke-width="1.3" stroke-linecap="round"/>
<polygon points="144.0,831.0 190.0,816.0 227.5,820.0 200.0,837.5" fill="#ffffff" stroke="#161a24" stroke-width="1.2" stroke-linejoin="round" />
<polygon points="357.5,802.5 402.5,801.0 386.0,837.5 322.5,836.0" fill="#ffffff" stroke="#161a24" stroke-width="1.2" stroke-linejoin="round" />
<line x1="360.3" y1="807.9" x2="391.1" y2="807.3" stroke="#3a3d45" stroke-width="1.3" stroke-linecap="round"/>
<line x1="355.0" y1="813.6" x2="377.3" y2="813.4" stroke="#3a3d45" stroke-width="1.3" stroke-linecap="round"/>
<line x1="349.8" y1="819.2" x2="384.5" y2="819.2" stroke="#3a3d45" stroke-width="1.3" stroke-linecap="round"/>
<line x1="344.5" y1="824.9" x2="367.7" y2="825.1" stroke="#3a3d45" stroke-width="1.3" stroke-linecap="round"/>
<line x1="339.2" y1="830.6" x2="377.9" y2="831.2" stroke="#3a3d45" stroke-width="1.3" stroke-linecap="round"/>
<polygon points="497.5,816.0 552.5,830.0 490.0,845.0 435.0,826.0" fill="#ffffff" stroke="#161a24" stroke-width="1.2" stroke-linejoin="round" />
<line x1="498.8" y1="821.8" x2="526.2" y2="829.2" stroke="#3a3d45" stroke-width="1.3" stroke-linecap="round"/>
<line x1="486.2" y1="824.0" x2="507.9" y2="830.3" stroke="#3a3d45" stroke-width="1.3" stroke-linecap="round"/>
<line x1="473.8" y1="826.2" x2="501.2" y2="834.8" stroke="#3a3d45" stroke-width="1.3" stroke-linecap="round"/>
<line x1="461.2" y1="828.5" x2="472.8" y2="832.3" stroke="#3a3d45" stroke-width="1.3" stroke-linecap="round"/>
<polygon points="119.0,766.0 167.5,759.0 185.0,820.0 137.5,830.0" fill="#7f90ae" stroke="#161a24" stroke-width="1.4" stroke-linejoin="round" />
<polygon points="121.5,767.6 166.1,761.1 182.6,818.6 138.8,827.7" fill="#94a3be" stroke="#3b4560" stroke-width="0.8" stroke-linejoin="round" />
<polygon points="126.3,770.3 163.1,764.7 166.4,776.4 129.8,782.3" fill="#a3d6c0" stroke="#2c3448" stroke-width="1" stroke-linejoin="round" />
<polygon points="131.4,788.1 138.7,786.9 140.7,793.8 133.5,795.1" fill="#66759a" stroke="#2c3448" stroke-width="0.7" stroke-linejoin="round" />
<polygon points="140.8,786.5 148.0,785.3 150.0,792.2 142.8,793.4" fill="#66759a" stroke="#2c3448" stroke-width="0.7" stroke-linejoin="round" />
<polygon points="150.2,784.9 157.4,783.7 159.4,790.5 152.2,791.8" fill="#66759a" stroke="#2c3448" stroke-width="0.7" stroke-linejoin="round" />
<polygon points="159.6,783.3 166.8,782.1 168.8,788.9 161.6,790.2" fill="#d9505c" stroke="#2c3448" stroke-width="0.7" stroke-linejoin="round" />
<polygon points="134.2,797.6 141.4,796.3 143.4,803.3 136.2,804.6" fill="#66759a" stroke="#2c3448" stroke-width="0.7" stroke-linejoin="round" />
<polygon points="143.6,796.0 150.8,794.7 152.7,801.6 145.6,802.9" fill="#66759a" stroke="#2c3448" stroke-width="0.7" stroke-linejoin="round" />
<polygon points="152.9,794.3 160.1,793.0 162.1,799.8 154.9,801.2" fill="#66759a" stroke="#2c3448" stroke-width="0.7" stroke-linejoin="round" />
<polygon points="162.3,792.6 169.5,791.3 171.4,798.1 164.2,799.4" fill="#66759a" stroke="#2c3448" stroke-width="0.7" stroke-linejoin="round" />
<polygon points="137.0,807.2 144.1,805.8 146.1,812.8 139.0,814.2" fill="#66759a" stroke="#2c3448" stroke-width="0.7" stroke-linejoin="round" />
<polygon points="146.3,805.4 153.5,804.1 155.4,811.0 148.3,812.3" fill="#66759a" stroke="#2c3448" stroke-width="0.7" stroke-linejoin="round" />
<polygon points="155.6,803.7 162.8,802.3 164.7,809.1 157.6,810.5" fill="#66759a" stroke="#2c3448" stroke-width="0.7" stroke-linejoin="round" />
<polygon points="164.9,801.9 172.1,800.6 176.7,816.5 169.6,818.0" fill="#e25560" stroke="#2c3448" stroke-width="0.7" stroke-linejoin="round" />
<polygon points="139.7,816.7 146.9,815.3 148.9,822.2 141.7,823.7" fill="#66759a" stroke="#2c3448" stroke-width="0.7" stroke-linejoin="round" />
<polygon points="149.0,814.9 156.2,813.5 158.1,820.3 151.0,821.8" fill="#66759a" stroke="#2c3448" stroke-width="0.7" stroke-linejoin="round" />
<polygon points="158.3,813.0 165.5,811.6 167.4,818.4 160.3,819.9" fill="#66759a" stroke="#2c3448" stroke-width="0.7" stroke-linejoin="round" />
<polygon points="432.5,770.0 475.0,779.0 442.5,824.0 397.5,812.5" fill="#7f90ae" stroke="#161a24" stroke-width="1.4" stroke-linejoin="round" />
<polygon points="433.2,771.6 472.3,780.0 441.7,822.2 400.3,811.7" fill="#94a3be" stroke="#3b4560" stroke-width="0.8" stroke-linejoin="round" />
<polygon points="434.8,774.5 467.3,781.5 461.0,790.0 428.2,782.6" fill="#a3d6c0" stroke="#2c3448" stroke-width="1" stroke-linejoin="round" />
<polygon points="425.1,786.5 431.6,788.0 427.8,792.7 421.3,791.2" fill="#66759a" stroke="#2c3448" stroke-width="0.7" stroke-linejoin="round" />
<polygon points="433.6,788.4 440.1,789.9 436.4,794.7 429.8,793.2" fill="#66759a" stroke="#2c3448" stroke-width="0.7" stroke-linejoin="round" />
<polygon points="442.0,790.3 448.5,791.8 444.9,796.7 438.3,795.2" fill="#66759a" stroke="#2c3448" stroke-width="0.7" stroke-linejoin="round" />
<polygon points="450.5,792.3 457.0,793.8 453.4,798.7 446.8,797.1" fill="#d9505c" stroke="#2c3448" stroke-width="0.7" stroke-linejoin="round" />
<polygon points="419.9,792.9 426.5,794.4 422.7,799.2 416.1,797.6" fill="#66759a" stroke="#2c3448" stroke-width="0.7" stroke-linejoin="round" />
<polygon points="428.4,794.9 435.0,796.5 431.3,801.3 424.7,799.7" fill="#66759a" stroke="#2c3448" stroke-width="0.7" stroke-linejoin="round" />
<polygon points="437.0,796.9 443.5,798.5 439.9,803.3 433.3,801.7" fill="#66759a" stroke="#2c3448" stroke-width="0.7" stroke-linejoin="round" />
<polygon points="445.5,798.9 452.1,800.5 448.5,805.4 441.9,803.8" fill="#66759a" stroke="#2c3448" stroke-width="0.7" stroke-linejoin="round" />
<polygon points="414.7,799.3 421.3,800.9 417.5,805.7 410.9,804.0" fill="#66759a" stroke="#2c3448" stroke-width="0.7" stroke-linejoin="round" />
<polygon points="423.3,801.4 429.9,803.0 426.2,807.8 419.5,806.2" fill="#66759a" stroke="#2c3448" stroke-width="0.7" stroke-linejoin="round" />
<polygon points="431.9,803.5 438.5,805.1 434.9,809.9 428.2,808.3" fill="#66759a" stroke="#2c3448" stroke-width="0.7" stroke-linejoin="round" />
<polygon points="440.5,805.6 447.1,807.2 438.6,818.8 431.9,817.1" fill="#e25560" stroke="#2c3448" stroke-width="0.7" stroke-linejoin="round" />
<polygon points="409.5,805.7 416.2,807.4 412.4,812.2 405.7,810.5" fill="#66759a" stroke="#2c3448" stroke-width="0.7" stroke-linejoin="round" />
<polygon points="418.2,807.9 424.9,809.6 421.1,814.4 414.4,812.7" fill="#66759a" stroke="#2c3448" stroke-width="0.7" stroke-linejoin="round" />
<polygon points="426.9,810.0 433.5,811.7 429.9,816.6 423.1,814.9" fill="#66759a" stroke="#2c3448" stroke-width="0.7" stroke-linejoin="round" />
<polygon points="515.0,446.0 549.0,461.0 524.0,505.0 496.0,487.0" fill="#ffffff" stroke="#161a24" stroke-width="1.2" stroke-linejoin="round" />
<line x1="518.4" y1="455.9" x2="538.2" y2="465.2" stroke="#3a3d45" stroke-width="1.3" stroke-linecap="round"/>
<line x1="515.1" y1="462.9" x2="534.3" y2="472.5" stroke="#3a3d45" stroke-width="1.3" stroke-linecap="round"/>
<line x1="511.7" y1="469.8" x2="530.3" y2="479.7" stroke="#3a3d45" stroke-width="1.3" stroke-linecap="round"/>
<line x1="508.3" y1="476.7" x2="526.3" y2="486.9" stroke="#3a3d45" stroke-width="1.3" stroke-linecap="round"/>
<line x1="505.0" y1="483.7" x2="522.4" y2="494.2" stroke="#3a3d45" stroke-width="1.3" stroke-linecap="round"/>
<path d="M142.7,379.2 A15,15 0 1 0 135.9,385.0 L144.8,388.6 Z" fill="#f4c669" stroke="#2a2622" stroke-width="1.5" stroke-linejoin="round"/><circle cx="130" cy="371.2" r="12" fill="none" stroke="#e3ad4a" stroke-width=".8"/><text x="130" y="376.7" font-size="17" font-weight="400" text-anchor="middle" fill="#2a2622" stroke="#2a2622" stroke-width=".4" transform="rotate(-14 130 371.2)">$</text>
<path d="M112.3,435.6 A16,16 0 1 0 105.1,441.7 L113.6,444.4 Z" fill="#f4c669" stroke="#2a2622" stroke-width="1.5" stroke-linejoin="round"/><circle cx="98.8" cy="427" r="13" fill="none" stroke="#e3ad4a" stroke-width=".8"/><text x="98.8" y="432.5" font-size="17" font-weight="400" text-anchor="middle" fill="#2a2622" stroke="#2a2622" stroke-width=".4" transform="rotate(-16 98.8 427)">$</text>
<path d="M502.6,409.9 A16,16 0 1 0 497.2,402.1 L493.0,410.8 Z" fill="#f4c669" stroke="#2a2622" stroke-width="1.5" stroke-linejoin="round"/><circle cx="512.5" cy="397.3" r="13" fill="none" stroke="#e3ad4a" stroke-width=".8"/><text x="512.5" y="402.8" font-size="17" font-weight="400" text-anchor="middle" fill="#2a2622" stroke="#2a2622" stroke-width=".4" transform="rotate(22 512.5 397.3)">$</text>
</g>

<!-- ================= RIGHT SCENE ================= -->
<g id="right-scene">
<ellipse cx="730" cy="731" rx="75" ry="14" fill="#c6d6ef" opacity=".9"/>
<ellipse cx="1003" cy="730" rx="135" ry="13.5" fill="#c6d6ef" opacity=".9"/>
<rect x="716" y="281" width="372" height="248" rx="9" fill="#edf2fb" stroke="#5d7db6" stroke-width="1.6"/>
<rect x="727" y="300" width="349" height="219" fill="#ffffff"/>
<rect x="717" y="519" width="370" height="9" fill="#e2ebf9"/>
<rect x="727" y="291" width="349" height="16.5" rx="3" fill="#96b8e8" stroke="#6a8bc4" stroke-width="1"/>
<circle cx="742" cy="299.5" r="3.1" fill="#ffffff"/>
<circle cx="754" cy="299.5" r="3.1" fill="#ffffff"/>
<circle cx="766" cy="299.5" r="3.1" fill="#ffffff"/>
<rect x="757.5" y="320" width="27.5" height="28" rx="5" fill="#82aeea"/>
<rect x="757.5" y="362.5" width="27.5" height="28" rx="5" fill="#82aeea"/>
<rect x="757.5" y="405" width="27.5" height="28" rx="5" fill="#82aeea"/>
<rect x="757.5" y="447" width="27.5" height="28" rx="5" fill="#82aeea"/>
<g fill="#ffffff"><rect x="762.5" y="335.5" width="4.6" height="8.5"/><rect x="769" y="337" width="4.6" height="7"/><rect x="775.5" y="335.5" width="4.6" height="8.5"/><path d="M766,331 C766,327.5 769,326 771.5,327 C773,325 777,326 776.5,329 C778,330 777,333.5 774,333 L768.5,333.5 C767,333.5 766,332.5 766,331 Z"/></g>
<g fill="none" stroke="#ffffff" stroke-width="1.8" stroke-linejoin="round"><rect x="762.5" y="369.5" width="18" height="13" fill="#ffffff" fill-opacity=".25"/><path d="M762.5,369.5 l9,8 l9,-8 M762.5,382.5 l6.5,-6 M780.5,382.5 l-6.5,-6"/></g>
<g fill="#ffffff"><rect x="764" y="412" width="4" height="14"/><rect x="771" y="409" width="4" height="17"/><rect x="778" y="415" width="3" height="11"/></g>
<g fill="none" stroke="#ffffff" stroke-width="1.8"><path d="M763,456 h10 v10 h-10 z M768,468 l8,-10"/></g>
<g fill="#6c7486" font-size="13.5" stroke="#6c7486" stroke-width=".25">
<text x="798" y="339.3" textLength="59" lengthAdjust="spacingAndGlyphs">Data Entry</text>
<text x="798" y="380.3" textLength="54" lengthAdjust="spacingAndGlyphs">Reporting</text>
<text x="798" y="421.5" textLength="58" lengthAdjust="spacingAndGlyphs">Curating</text>
<text x="799" y="465.5" font-size="14.5" textLength="107" lengthAdjust="spacingAndGlyphs">Customer Support</text>
</g>
<rect x="916" y="452" width="36" height="8" rx="1.5" fill="#cfe0f6"/>
<rect x="916" y="467" width="124" height="12" rx="1.5" fill="#cfe0f6"/>
<rect x="916" y="485" width="17" height="6" rx="1.5" fill="#cfe0f6"/>
<rect x="968" y="485" width="62" height="6" rx="1.5" fill="#cfe0f6"/>
<rect x="916" y="497" width="114" height="7" rx="1.5" fill="#cfe0f6"/>
<rect x="768" y="483" width="129" height="10" rx="1.5" fill="#cfe0f6"/>
<rect x="838" y="499.5" width="59" height="7" rx="1.5" fill="#cfe0f6"/>
<g fill="none" stroke="#50c650" stroke-width="2.4" stroke-linecap="round" stroke-linejoin="round">
<path d="M887,334 C915,326 947,342 954,382"/>
<path d="M937,361 C915,356 900,366 897,384 C895,398 887,404 877,398"/>
</g>
<g fill="#50c650" stroke="#50c650" stroke-width="1" stroke-linejoin="round">
<path d="M883,334.5 L894,328.5 L891.5,334 L895,339.5 Z"/>
<path d="M955,388 L948.5,377 L954.5,379.5 L960,376 Z"/>
<path d="M873,395 L885.5,394 L880.5,398 L881,404.5 Z"/>
</g>
<clipPath id="rc"><rect x="900" y="300" width="176" height="147.5"/></clipPath>
<g clip-path="url(#rc)">
<path class="o" d="M976,392 C968,396 962,410 958,424 L934,402 L926,411 L948,437 C956,444 966,440 970,432 L982,408 Z" fill="#8b95a8"/>
<path class="o" d="M996,384 C985,385 975,390 972,398 C966,415 966,435 966,452 L1052,452 C1052,430 1050,408 1044,396 C1040,388 1030,385 1018,384 Z" fill="#8c95a8"/>
<path d="M972,398 C966,415 966,435 966,452 L982,452 C980,430 982,410 990,392 Z" fill="#77819a" opacity=".7"/>
<path class="o" d="M996,372 L1018,372 L1019,385 C1012,388 1002,388 995,385 Z" fill="#4a5162"/>
<path class="o" d="M1036,392 C1046,394 1052,404 1053,420 L1054,447 L1018,447 L1018,428 L1040,426 C1040,414 1038,404 1036,392 Z" fill="#8b95a8"/>
<path d="M979,399 L1026,396.5 L1030,450 L983,450 Z" fill="#4b7bd0" stroke="#26355f" stroke-width="2.2" stroke-linejoin="round"/>
<rect x="990" y="407" width="21" height="8" rx="3.5" fill="#f2f6fc"/>
<rect x="990.5" y="418" width="18" height="7" rx="3" fill="#a9c6f1"/>
<path class="o" d="M994,424 C998,420 1006,421 1010,423 C1014,420 1018,424 1017,430 L1016,436 C1010,438 1000,437 996,433 C993,430 992,427 994,424 Z" fill="#6f7b93"/>
<path d="M1008,418 C1012,416 1016,418 1016,423 L1012,424 Z" fill="#4e8ee0"/>
<path class="o" d="M1017,425 L1052,423 L1053,446 L1018,441 Z" fill="#8c95a8"/>
<path class="o" d="M914,390 C916,386 920,387 921,391 C922,386 927,385 928,390 C930,386 934,387 934,392 L936,398 C938,394 941,393 942,396 C941,402 938,408 932,411 C926,414 920,411 917,406 C914,401 913,395 914,390 Z" fill="#6f7b93"/>
<path class="ol" d="M921,391 L922,399 M928,390 L928,399 M915,395 L920,394.5 M922,393.5 L927,393 M929,393.5 L934,394 M918,402 C922,405 928,405 933,402" stroke-width=".8"/>
<ellipse class="o" cx="1005" cy="344" rx="31" ry="32.5" fill="#dbe5f5"/>
<path d="M975,338 C978,322 990,313 1004,312 C992,320 984,334 984,350 C984,362 988,372 994,376 C984,370 974,356 975,338 Z" fill="#b3c6e6" opacity=".8"/>
<path class="ol" d="M1013,360 C1014,365 1014.5,370 1015,374"/>
<ellipse class="o" cx="986.5" cy="316.5" rx="2" ry="3" fill="#dbe5f5" transform="rotate(15 986.5 316.5)"/>
<path class="o" d="M975,338 C971,340 971,356 975,360 Z" fill="#9fb2d4"/>
<rect x="976" y="336" width="40.5" height="23.5" rx="10" fill="#29324f" stroke="#141927" stroke-width="1.2"/>
<ellipse cx="984.5" cy="348" rx="2.8" ry="4.8" fill="#55c6f2"/><ellipse cx="1001.5" cy="348" rx="2.8" ry="4.8" fill="#55c6f2"/>
<ellipse class="o" cx="1031.5" cy="348.5" rx="8.5" ry="11.5" fill="#cad8ef"/>
<ellipse cx="1034.8" cy="349" rx="5" ry="9" fill="#47506b" stroke="#1e2330" stroke-width="1"/>
<path class="ol" d="M987.5,365 L994,365.5"/>
<path class="o" d="M1018.5,327 C1020.5,330 1021,333 1018.5,333.5 C1016,333 1016.5,330 1018.5,327 Z" fill="#e9f1fb" stroke-width=".9"/>
</g>
<text x="1037.5" y="322" font-size="13" fill="#555b68">?</text>
<path class="o" d="M1090,462 C1092,457 1097,455 1104,455 C1118,454 1132,456 1140,459 C1149,462 1153,469 1152,479 L1118,632 C1114,642 1106,645 1096,645 L1060,645 L1086,560 C1092,520 1092,490 1090,462 Z" fill="#6a8fc9"/>
<path class="o" d="M1133,462 C1138,458 1146,461 1150,466 C1153,470 1153,475 1152,479 L1118,632 C1115,640 1110,644 1102,645 L1096,645 Z" fill="#7095ce"/>
<path class="o" d="M973,627 C985,622 1005,619 1030,619 L1096,619 C1108,619 1116,625 1114,634 C1112,641 1104,644 1094,644 L1010,644 C995,644 980,636 973,627 Z" fill="#6d92d2"/>
<path class="ol" d="M1001,644 C999,636 1002,628 1012,624"/>
<rect class="o" x="1030" y="644" width="27" height="6" rx="1" fill="#7f9dcf"/>
<rect class="o" x="1038.5" y="650" width="12.5" height="34" fill="#9db4dc"/>
<rect class="o" x="1036.5" y="682" width="16" height="24" rx="2" fill="#8ea7d3"/>
<path class="o" d="M1037,700 L996,712 C991,714 993,721 998,719 L1038,709 Z" fill="#8ea7d3"/>
<path class="o" d="M1052,700 L1093,712 C1098,714 1096,721 1091,719 L1052,709 Z" fill="#8ea7d3"/>
<rect class="o" x="1041" y="704" width="7" height="20" fill="#8ea7d3"/>
<rect class="o" x="1036" y="698" width="17" height="8.5" rx="1.5" fill="#9db4dc"/>
<circle class="o" cx="997" cy="725.5" r="7.8" fill="#5a6b90"/><circle cx="997" cy="725.5" r="3.6" fill="#44526f" stroke="#1e2330" stroke-width=".8"/>
<circle class="o" cx="1044.5" cy="730" r="7.8" fill="#5a6b90"/><circle cx="1044.5" cy="730" r="3.6" fill="#44526f" stroke="#1e2330" stroke-width=".8"/>
<circle class="o" cx="1091.5" cy="725.5" r="7.8" fill="#5a6b90"/><circle cx="1091.5" cy="725.5" r="3.6" fill="#44526f" stroke="#1e2330" stroke-width=".8"/>
<path class="o" d="M1067,619 L1021,613 C1000,606 975,600 956,603 C948,606 944,614 941,626 L921,707 L946,711 L972,630 C985,628 1000,632 1020,634 Z" fill="#263b6e"/>
<path class="o" d="M1075,572 C1050,566 1010,566 975,566 C962,566 950,567 944,572 C940,576 936,582 932,590 L888,656 L906,671 L958,602 C975,606 1000,612 1030,616 C1060,620 1085,618 1090,600 C1092,588 1086,576 1075,572 Z" fill="#2d4377"/>
<path class="ol" d="M940,590 L898,655 M953,600 C950,598 946,598 944,600 M958,602 L965,592"/>
<path class="ol" d="M937,640 L925,700"/>
<path class="o" d="M1030,575 C1028,595 1034,612 1050,618 C1066,622 1084,620 1092,612 C1104,600 1110,585 1112,570 Z" fill="#293e71"/>
<path class="o" d="M888,656 L906,671 C905,677 902,683 898,686 L892,684 L893,680 C880,676 862,670 851,664 C847,661 848,657 852,656 C864,658 878,658 888,656 Z" fill="#4b4b4f"/>
<path class="o" d="M921,707 L946,711 C947,718 946,726 943,732 L930,733 L929,730 L892,736 C888,736 887,731 890,728 C902,722 914,714 921,707 Z" fill="#4b4b4f"/>
<path class="o" d="M1058,466 C1050,468 1042,470 1039,474 C1034,484 1030,510 1029,530 C1027,548 1027,565 1030,578 L1112,572 C1120,555 1126,520 1124,496 C1123,484 1112,478 1092,466 Z" fill="#2d4377"/>
<path class="o" d="M1059,466 L1090,462 L1094,474 L1070,500 L1052,528 L1046,505 L1052,480 Z" fill="#ffffff"/>
<path class="o" d="M1061.5,480 L1067.5,480 L1066,492 L1061.5,511 L1052,529 L1048.5,516 L1056,495 Z" fill="#4f85d0"/>
<path class="o" d="M1060,473 L1066,471 L1069.5,477 L1067.5,480.5 L1061.5,480.5 Z" fill="#5b92dc"/>
<path class="o" d="M1058.5,466.5 L1049,471 L1045.5,479 L1050,481 L1046,487 L1047,512 L1052,529 L1048.5,505 L1056,478 Z" fill="#2d4377"/>
<path class="o" d="M1089.5,463.5 L1097,477 L1090,486 L1093,489.5 C1082,505 1068,518 1052,530 L1061.5,512 L1082,478 Z" fill="#2d4377"/>
<circle cx="1047" cy="543" r="1.8" fill="#25396a" stroke="#10162e" stroke-width=".9"/>
<path class="o" d="M1059,465 L1056,478 L1061,474 L1065,470 Z" fill="#ffffff"/><path class="o" d="M1090,462 L1065,470 L1074.5,481 L1084,475 Z" fill="#ffffff"/>
<path class="o" d="M1098,476 C1112,478 1123,486 1124,500 C1126,525 1122,548 1113,562 C1108,570 1098,571 1088,570 L1040,573 L1038,556 L1088,546 C1092,520 1092,495 1098,476 Z" fill="#2d4377"/>
<path class="ol" d="M1088,546 C1092,545 1096,543 1099,540 M1094,555 L1102,551"/>
<path class="o" d="M1034,556 L1039.5,555 L1041.5,573 L1036,573.5 Z" fill="#ffffff"/>
<path class="o" d="M1035,558 C1028,556 1018,558 1011,563 C1006,568 1005,576 1007,583 C1009,588 1012,588 1013,584 C1015,589 1019,588 1019,583 C1022,586 1025,584 1024,579 C1028,578 1033,576 1036,573 Z" fill="#f4c9a8"/>
<path class="ol" d="M1013,584 L1012,575 M1019,583 L1018,574" stroke-width=".8"/>
<path class="o" d="M1022,578 C1018,578 1016,582 1017,586 L1028,638 C1029,642 1034,642 1035,638 L1026,586 C1026,584 1027,582 1030,582 L1118,579 C1123,579 1123,570 1118,570 L1030,572 C1026,572 1023,574 1022,578 Z" fill="#7f9fd6"/>
<path class="o" d="M1040,474 C1030,486 1018,502 1009,514 L974,496.5 L965.5,513 L1004,538 C1012,542 1020,540 1028,534 C1036,526 1042,510 1046,492 Z" fill="#2d4377"/>
<path class="ol" d="M1006,514 C1008,518 1008,522 1006,526"/>
<path class="o" d="M968.5,494.5 L974.5,496.5 L965.5,513.5 L960,511 Z" fill="#ffffff"/>
<path class="o" d="M968,495 C962,492 958,490.5 955,489.5 L949.5,480.5 C948,478.5 945.5,479.5 946,482.5 L949.5,489 C942,487 934,486.5 928,488.5 C926,490 927,491.5 929.5,492 C927,493 927.5,495.5 930.5,496 C929,497.5 930.5,499.5 933.5,499.5 C933,501 935,502.5 938,502.5 C944,505.5 952,507.5 961.5,507 Z" fill="#f4c9a8"/>
<path class="ol" d="M929.5,492 L940,493 M930.5,496 L941,497 M950,489 C951,492 951,495 950,498 M944,500 L950,499" stroke-width=".8"/>
<path class="o" d="M1056,455 L1058,470 L1088,466 L1084,448 Z" fill="#efbf9c"/>
<path class="o" d="M1091,430 C1096,428 1099,433 1097,438 C1095,443 1090,444 1088,441 Z" fill="#f4c9a8"/>
<path class="o" d="M1052,410 C1050,425 1050,440 1054,450 C1058,458 1064,461 1070,460 C1080,458 1087,450 1089,440 L1088,412 C1082,394 1058,394 1052,410 Z" fill="#f4c9a8"/>
<path class="o" d="M1048,406 C1047,398 1050,393 1054,391 C1058,388 1064,388 1068,390 C1076,387 1088,390 1094,398 C1099,405 1100,414 1097,422 C1096,427 1094,431 1091,433 C1090,438 1088,440 1086,438 C1088,430 1087,420 1084.5,411 C1078,409 1071,407.5 1064,407 C1060,407.5 1055,408.5 1051,409.5 C1049.5,409.5 1048.5,408 1048,406 Z" fill="#74625a"/>
<path class="ol" d="M1068,390 C1070,396 1076,400 1084,402" stroke="#3a2f28" stroke-width=".9"/>
<path d="M1052,420.5 L1059,420 M1067,421 L1076,422.5" stroke="#2a2320" stroke-width="1.8" stroke-linecap="round"/>
<ellipse cx="1055.5" cy="427.5" rx="1.7" ry="2.5" fill="#17171c"/><ellipse cx="1071.5" cy="429" rx="1.7" ry="2.5" fill="#17171c"/>
<path class="ol" d="M1062,428 C1060,433 1058,437 1058,440 C1060,441 1062,441 1064,440"/>
<path class="ol" d="M1057,446.5 C1061,449 1067,449 1072,446"/>
<path class="o" d="M688,546 L728,550 C724,580 714,640 707,712 L683,712 C684,650 686,600 688,546 Z" fill="#2d4377"/>
<path class="o" d="M727,548 L765,546 C764,600 760,660 757,711 L732,711 C731,660 730,600 727,548 Z" fill="#2d4377"/>
<path class="ol" d="M712,555 C708,600 702,660 698,705 M756,565 C755,610 753,660 751,700"/>
<path d="M727,548 L736,548 C733,570 730,585 728,600 Z" fill="#22355f"/>
<path class="o" d="M683,712 L707,712 C709,720 710,730 708,736 C702,740 690,740 684,736 C680,730 681,720 683,712 Z" fill="#4b4b4f"/>
<path class="o" d="M732,711 L757,710 C764,718 776,722 783,726 C786,729 785,733 782,734 L746,731 L745,728 L734,728 C732,722 732,716 732,711 Z" fill="#4b4b4f"/>
<path class="ol" d="M689,718 L701,718 M689,722 L701,722 M760,716 L766,713 M763,720 L769,717" stroke="#222" stroke-width=".9"/>
<rect x="727" y="528" width="26" height="24" fill="#25396a"/>
<path class="o" d="M684,410 C676,420 668,435 660,450 C654,460 647,470 647,478 C647,484 652,490 660,497 L682,521 L692,509 L673,479 C677,470 682,462 688,452 Z" fill="#2d4377"/>
<path class="o" d="M714,398 C700,402 690,406 684,410 C680,430 684,450 684,462 C686,480 690,495 690,500 L683,546 C695,550 712,552 724,550 C732,548 737,543 739,536 C742,542 746,547 751,548 C758,549 764,548 768.5,546 C766,520 766,490 768,448 C768,430 764,416 758,408 C752,402 748,400 744,399 L739,470 Z" fill="#2d4377"/>
<path class="ol" d="M739,472 L739,536 M684,462 C687,468 689,474 690,480"/>
<rect class="o" x="694" y="501" width="25" height="10" rx="2" fill="#283f74"/><rect class="o" x="753" y="500" width="11.5" height="9" rx="2" fill="#283f74"/>
<circle cx="740.6" cy="482" r="2" fill="#25396a" stroke="#10162e" stroke-width="1"/><circle cx="741" cy="504.4" r="2" fill="#25396a" stroke="#10162e" stroke-width="1"/>
<path class="o" d="M720,382 L720,402 L745,403 L746,384 Z" fill="#efbf9c"/>
<path class="o" d="M714,397 L722,392 L744,394 L745,400 L741,440 L739,468 L732,440 Z" fill="#ffffff"/>
<path class="o" d="M730,409 L737,407.5 L740,416 L744,445 L739,469 L732,448 L733,418 Z" fill="#4f85d0"/>
<path class="o" d="M729,408 L734,405 L739,407.5 L740,416 L733,418 Z" fill="#5b92dc"/>
<path class="o" d="M714,397 L721,392 L733,405 L724,417 Z" fill="#ffffff"/><path class="o" d="M745,394 L733,405 L742,415 L746,400 Z" fill="#ffffff"/>
<path class="o" d="M714,398 L703,410 L706,420 L701,423 C712,445 728,462 739,472 L732,440 Z" fill="#2d4377"/>
<path class="o" d="M745,399 L756,412 L752,420 L757,424 C752,445 745,462 739,472 L744,440 Z" fill="#2d4377"/>
<path class="o" d="M681,520 L690,509 L695,513 L686,524 Z" fill="#ffffff"/>
<path class="o" d="M688,517 C692,512 700,510 708,512 C714,514 718,518 719,523 C720,527 717,528 715,526 C716,530 712,531 710,528 C709,531 705,531 704,528 C700,529 696,527 693,524 Z" fill="#f4c9a8"/>
<path class="ol" d="M710,528 L706,520 M715,526 L711,518 M704,528 L701,522" stroke-width=".8"/>
<path class="o" d="M757,407 C764,412 770,420 775,430 L792,450 L821,413 L837,426 L806,470 C800,477 790,476 783,470 C776,462 770,452 766,446 Z" fill="#2d4377"/>
<path class="ol" d="M790,447 C792,450 793,454 793,458 M795,446 L797,452"/>
<path class="o" d="M819,411 L823,406.5 L840,421 L836,426.5 Z" fill="#ffffff"/>
<path class="o" d="M824,408 C824,400 828,394 834,390 C836,386 840,386 840,390 L838,396 C844,394 852,391 858,388.5 C862,388 862,392 859,393.5 L848,399 C852,400 853,404 850,406 C852,408 851,412 848,413 C848,416 845,418 842,417 L838,420 Z" fill="#f4c9a8"/>
<path class="ol" d="M848,399 L842,401 M850,406 L843,407 M848,413 L842,412" stroke-width=".8"/>
<path class="o" d="M711,362 C706,361 705,368 707,372 C709,376 713,376 715,374 Z" fill="#f4c9a8"/>
<path class="o" d="M713,345 C711,360 713,375 719,384 C725,391 733,394 740,392 C748,389 753,380 753,368 L752,342 C742,334 722,336 713,345 Z" fill="#f4c9a8"/>
<path class="o" d="M706.5,362 C703,352 703.5,341 709,335 C714,329 722,326 730,326.5 C736,323.5 744,322.5 749,324.5 C753,326 756.5,330 756.5,335 C756.5,339 754.5,342 752.5,344 C746,341.5 738,342.5 731,342 C725,342 720,342.5 717.5,343.5 C716,348 715.5,356 715,365 C713,367 709,366 706.5,362 Z" fill="#74625a"/>
<path class="ol" d="M731,327 C731,333 734,338 740,341 M712,345 C715,343 718,342 721,342" stroke="#3a2f28" stroke-width=".9"/>
<path d="M723,355 L733,353.5 M742,353.5 L750,355" stroke="#2a2320" stroke-width="2" stroke-linecap="round"/>
<ellipse cx="729" cy="363.5" rx="1.9" ry="2.8" fill="#17171c"/><ellipse cx="746" cy="363.5" rx="1.9" ry="2.8" fill="#17171c"/>
<path class="ol" d="M738,362 C740,367 742,371 741,374 C739,375 737,375 735,374"/>
<path class="o" d="M728,378 C733,380 739,380 745,378 C744,384 740,387 736,387 C732,387 729,383 728,378 Z" fill="#ffffff"/>
</g>

<!-- ================= OVERLAYS ================= -->
<g id="overlays">
<!-- divider -->
<rect x="599" y="31" width="2.2" height="969" fill="#15171c"/>

<!-- red X -->
<g stroke="#fe0000" stroke-width="36" stroke-linecap="butt" fill="none">
<line x1="101.6" y1="307.7" x2="507.5" y2="713.7"/>
<line x1="507.7" y1="307.7" x2="102.7" y2="713.5"/>
</g>

<!-- thought bubble -->
<ellipse cx="392" cy="293.3" rx="84.5" ry="47.5" fill="#fdfdfe" stroke="#15171c" stroke-width="1.6"/>
<circle cx="316.3" cy="338" r="9.5" fill="#fdfdfe" stroke="#15171c" stroke-width="1.6"/>
<circle cx="300" cy="356.2" r="6.3" fill="#fdfdfe" stroke="#15171c" stroke-width="1.6"/>
<text class="t" x="332.7" y="289" font-size="26.5" textLength="118.5" lengthAdjust="spacingAndGlyphs">$$/7/hour</text>
<text class="t" x="348.1" y="318.5" font-size="26.5" textLength="96.9" lengthAdjust="spacingAndGlyphs">wasted!</text>

<!-- green check -->
<circle cx="1077.3" cy="257" r="49.5" fill="#55c458"/>
<polygon points="1047.4,261.8 1054.8,254 1069.2,266.6 1102.2,233.4 1110.6,240.8 1069.8,284" fill="#ffffff"/>

<!-- green arrow -->
<polygon points="888.2,766.4 928.6,766.4 928.6,816.4 954.2,816.4 908.4,864.4 862.6,816.4 888.2,816.4" fill="#55c558"/>

<!-- savings box -->
<rect x="721.7" y="874" width="375" height="111.5" rx="8" ry="8" fill="#f6f8fb" stroke="#4a4f5a" stroke-width="1.6"/>
<text class="t" x="741.1" y="920" font-size="34.5" textLength="158.2" lengthAdjust="spacingAndGlyphs">MASSIVE</text>
<text class="t" x="909" y="920" font-size="34.5" textLength="166.4" lengthAdjust="spacingAndGlyphs">SAVINGS!</text>
<text class="t" x="748" y="964.3" font-size="34">£5000/month saved!</text>

<!-- titles -->
<g class="t" font-size="40">
<text x="95.5" y="91" textLength="144.8" lengthAdjust="spacingAndGlyphs">Manual</text>
<text x="255.1" y="91" textLength="113.5" lengthAdjust="spacingAndGlyphs">Work:</text>
<text x="381.9" y="91" textLength="95.2" lengthAdjust="spacingAndGlyphs">Time</text>
<text x="101.5" y="146.5" textLength="226.4" lengthAdjust="spacingAndGlyphs">Consuming</text>
<text x="341" y="146.5" textLength="27.4" lengthAdjust="spacingAndGlyphs">&amp;</text>
<text x="384.2" y="146.5" textLength="120.8" lengthAdjust="spacingAndGlyphs">Costly</text>
<text x="669.4" y="91" textLength="153.2" lengthAdjust="spacingAndGlyphs">Custom</text>
<text x="834.8" y="91" textLength="175.6" lengthAdjust="spacingAndGlyphs">Software</text>
<text x="1024.5" y="91" textLength="25.3" lengthAdjust="spacingAndGlyphs">+</text>
<text x="1063.2" y="91" textLength="55.9" lengthAdjust="spacingAndGlyphs">AI:</text>
<text x="677.8" y="146" textLength="190" lengthAdjust="spacingAndGlyphs">Seamless</text>
<text x="881" y="146" textLength="227.9" lengthAdjust="spacingAndGlyphs">Automation</text>
</g>
<g class="t" font-size="36">
<text x="158.4" y="961" textLength="121.7" lengthAdjust="spacingAndGlyphs">Unique</text>
<text x="292.5" y="961" textLength="157.6" lengthAdjust="spacingAndGlyphs">Workflow</text>
</g>
</g>
</svg>
</body>
</html>
